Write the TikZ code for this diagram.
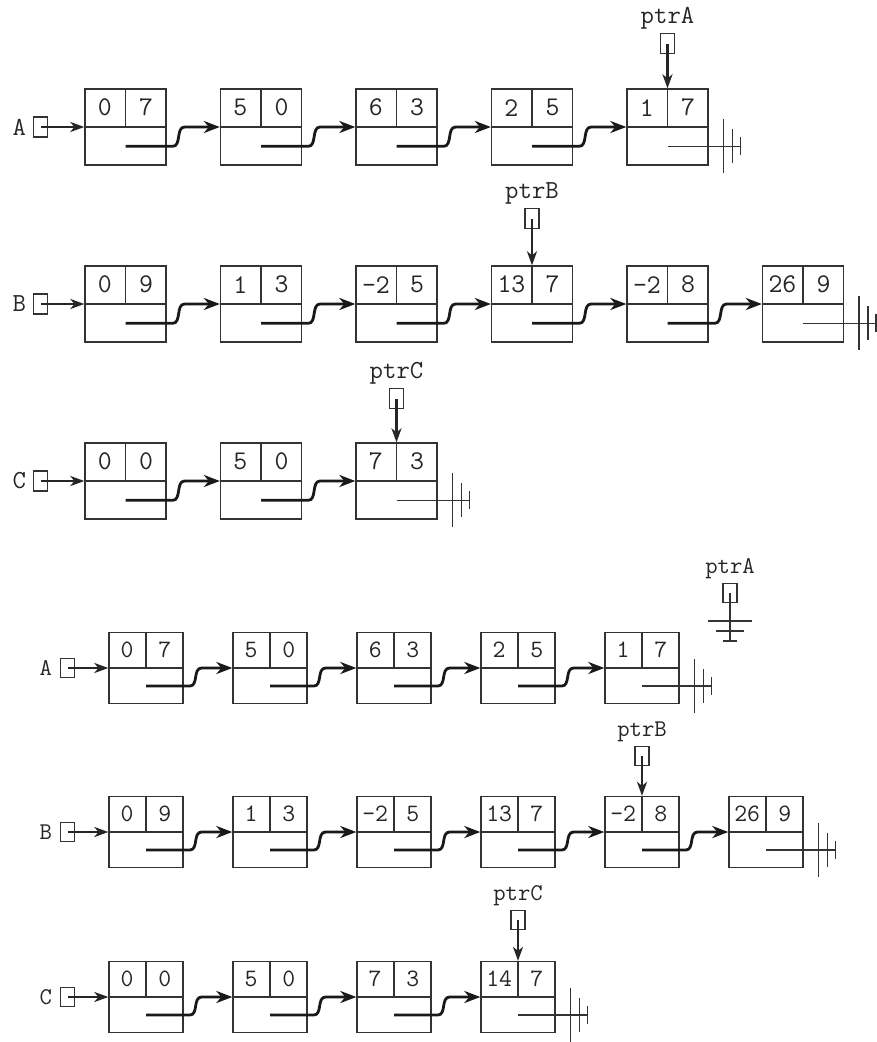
\documentclass[tikz,border=0pt]{standalone}
\usepackage{fontspec}
\usetikzlibrary{arrows.meta,positioning,calc}

\tikzset{
  term/.style={draw=black!80, line width=1.3pt, minimum width=81pt, minimum height=76pt, inner sep=0pt},
  cell/.style={draw=black!80, line width=1.3pt},
  val/.style={inner sep=0pt, text=black!85, font=\ttfamily\fontsize{27}{27}\selectfont},
  lbl/.style={inner sep=0pt, text=black!85, font=\ttfamily\fontsize{26}{26}\selectfont},
  ptrname/.style={inner sep=0pt, text=black!85, font=\ttfamily\fontsize{26}{26}\selectfont},
  head/.style={draw=black!80, line width=1.2pt, minimum width=14pt, minimum height=20pt, inner sep=0pt},
  ptr/.style={draw=black!85, line width=2.2pt, -{Stealth[length=14pt,width=10pt,inset=4pt]}},
  link/.style={draw=black!90, line width=2.8pt, -{Stealth[length=16pt,width=12pt,inset=5pt]}},
  nilline/.style={draw=black!80, line width=1.4pt}
}

% one term: coefficient | exponent on top, link field below
\newcommand{\listterm}[4]{%
  \node[term] (#1) at #2 {};
  \draw[cell] (#1.west) -- (#1.east) (#1.north) -- (#1.center);
  \node[val] at ($(#1.north west)!.5!(#1.center)$) {#3};
  \node[val] at ($(#1.north east)!.5!(#1.center)$) {#4};
}

% link field of #1 pointing to term #2
\newcommand{\nextlink}[2]{%
  \draw[link] ($(#1.south)!.5!(#1.center)$) -- ($(#1.south east)!.5!(#1.east)+(6,0)$)
    .. controls +(9,0) and +(-9,0) .. ($(#1.east)+(18,0)$) -- (#2.west);
}

% null link at the end of a list
\newcommand{\nullend}[1]{%
  \coordinate (#1-g) at ($(#1.south east)!.5!(#1.east)$);
  \draw[nilline] ($(#1.south)!.5!(#1.center)$) -- ($(#1-g)+(32,0)$);
  \draw[nilline] ($(#1-g)+(15,-27)$) -- +(0,54)
                 ($(#1-g)+(24,-17)$) -- +(0,34)
                 ($(#1-g)+(32,-9)$) -- +(0,18);
}

\begin{document}
\begin{tikzpicture}[x=1pt, y=-1pt]
  \useasboundingbox (0,0) rectangle (877,1042);

  % ---- before the addition ----
  \begin{scope}
    % list A
    \foreach \coef/\expo [count=\i] in {0/7,5/0,6/3,2/5,1/7}
      \listterm{a\i}{(-10+135.5*\i,127)}{\coef}{\expo};
    \foreach \i/\j in {1/2,2/3,3/4,4/5}
      \nextlink{a\i}{a\j};
    \nullend{a5}
    \node[head, left=36pt of a1] (ha) {};
    \node[lbl, left=7pt of ha] {A};
    \draw[ptr] (ha.center) -- (a1.west);
    \node[head, above=34pt of a5] (pa) {};
    \node[ptrname, above=4pt of pa] {ptrA};
    \draw[ptr] (pa.center) -- (a5.north);

    % list B
    \foreach \coef/\expo [count=\i] in {0/9,1/3,-2/5,13/7,-2/8,26/9}
      \listterm{b\i}{(-10+135.5*\i,304)}{\coef}{\expo};
    \foreach \i/\j in {1/2,2/3,3/4,4/5,5/6}
      \nextlink{b\i}{b\j};
    \nullend{b6}
    \node[head, left=36pt of b1] (hb) {};
    \node[lbl, left=7pt of hb] {B};
    \draw[ptr] (hb.center) -- (b1.west);
    \node[head, above=36pt of b4] (pb) {};
    \node[ptrname, above=4pt of pb] {ptrB};
    \draw[ptr] (pb.center) -- (b4.north);

    % list C
    \foreach \coef/\expo [count=\i] in {0/0,5/0,7/3}
      \listterm{c\i}{(-10+135.5*\i,481)}{\coef}{\expo};
    \foreach \i/\j in {1/2,2/3}
      \nextlink{c\i}{c\j};
    \nullend{c3}
    \node[head, left=36pt of c1] (hc) {};
    \node[lbl, left=7pt of hc] {C};
    \draw[ptr] (hc.center) -- (c1.west);
    \node[head, above=33pt of c3] (pc) {};
    \node[ptrname, above=4pt of pc] {ptrC};
    \draw[ptr] (pc.center) -- (c3.north);
  \end{scope}

  % ---- after the addition ----
  \begin{scope}[term/.append style={minimum width=74pt, minimum height=71pt},
                val/.append style={font=\ttfamily\fontsize{25}{25}\selectfont},
                lbl/.append style={font=\ttfamily\fontsize{24}{24}\selectfont},
                ptrname/.append style={font=\ttfamily\fontsize{24}{24}\selectfont},
                head/.append style={minimum height=19pt}]
    % list A
    \foreach \coef/\expo [count=\i] in {0/7,5/0,6/3,2/5,1/7}
      \listterm{na\i}{(22+124*\i,668)}{\coef}{\expo};
    \foreach \i/\j in {1/2,2/3,3/4,4/5}
      \nextlink{na\i}{na\j};
    \nullend{na5}
    \node[head, left=33pt of na1] (nha) {};
    \node[lbl, left=8pt of nha] {A};
    \draw[ptr] (nha.center) -- (na1.west);
    \node[head] (npa) at (730,593) {};
    \node[ptrname, above=4pt of npa] {ptrA};
    \draw[nilline] (npa.center) -- +(0,48)
      ($(npa.center)+(-22,28)$) -- +(44,0)
      ($(npa.center)+(-14,38)$) -- +(28,0)
      ($(npa.center)+(-7,48)$) -- +(14,0);

    % list B
    \foreach \coef/\expo [count=\i] in {0/9,1/3,-2/5,13/7,-2/8,26/9}
      \listterm{nb\i}{(22+124*\i,832)}{\coef}{\expo};
    \foreach \i/\j in {1/2,2/3,3/4,4/5,5/6}
      \nextlink{nb\i}{nb\j};
    \nullend{nb6}
    \node[head, left=33pt of nb1] (nhb) {};
    \node[lbl, left=8pt of nhb] {B};
    \draw[ptr] (nhb.center) -- (nb1.west);
    \node[head, above=30pt of nb5] (npb) {};
    \node[ptrname, above=4pt of npb] {ptrB};
    \draw[ptr] (npb.center) -- (nb5.north);

    % list C
    \foreach \coef/\expo [count=\i] in {0/0,5/0,7/3,14/7}
      \listterm{nc\i}{(22+124*\i,997)}{\coef}{\expo};
    \foreach \i/\j in {1/2,2/3,3/4}
      \nextlink{nc\i}{nc\j};
    \nullend{nc4}
    \node[head, left=33pt of nc1] (nhc) {};
    \node[lbl, left=8pt of nhc] {C};
    \draw[ptr] (nhc.center) -- (nc1.west);
    \node[head, above=31pt of nc4] (npc) {};
    \node[ptrname, above=4pt of npc] {ptrC};
    \draw[ptr] (npc.center) -- (nc4.north);
  \end{scope}
\end{tikzpicture}
\end{document}
